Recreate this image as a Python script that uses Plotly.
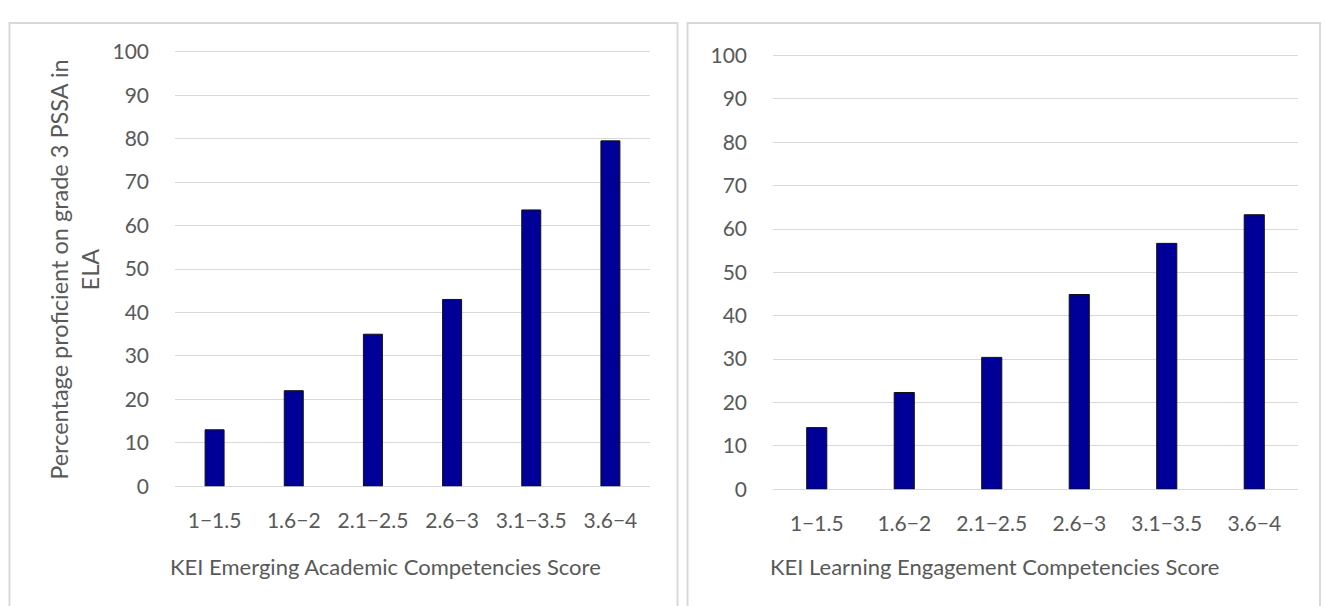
import plotly.graph_objects as go

categories = ["1\u22121.5", "1.6\u22122", "2.1\u22122.5", "2.6\u22123", "3.1\u22123.5", "3.6\u22124"]
academic_values = [13.0, 22.0, 35.0, 43.0, 63.6, 79.5]
engagement_values = [14.2, 22.3, 30.4, 44.9, 56.7, 63.3]
y_ticks = [0, 10, 20, 30, 40, 50, 60, 70, 80, 90, 100]
left_xtitle = "KEI Emerging Academic Competencies Score"
right_xtitle = "KEI Learning Engagement Competencies Score"
y_title = "Percentage proficient on grade 3 PSSA in<br>ELA"

W, H = 1325, 606
FONT = "Lato, 'Open Sans', sans-serif"
TXT = "#595959"
GRID = "#d9d9d9"
BAR = "#000099"

def px(x):
    return x / W

def py(y):
    return (H - y) / H

fig = go.Figure()
fig.add_trace(go.Bar(x=categories, y=academic_values, xaxis="x", yaxis="y",
                     marker=dict(color=BAR, line=dict(color="#111111", width=1)),
                     width=0.24, showlegend=False))
fig.add_trace(go.Bar(x=categories, y=engagement_values, xaxis="x2", yaxis="y2",
                     marker=dict(color=BAR, line=dict(color="#111111", width=1)),
                     width=0.23, showlegend=False))

axfont = dict(family=FONT, size=21, color=TXT)
common_y = dict(range=[0, 100.3], tickvals=y_ticks, showgrid=True, gridcolor=GRID, gridwidth=1,
                zeroline=True, zerolinecolor=GRID, zerolinewidth=1, showline=False,
                tickfont=axfont, ticks="", ticklabelstandoff=25, fixedrange=True)
common_x = dict(showgrid=False, zeroline=False, showline=False, tickfont=axfont, ticks="",
                ticklabelstandoff=20, fixedrange=True)

fig.update_layout(
    width=W, height=H,
    margin=dict(l=0, r=0, t=0, b=0),
    paper_bgcolor="white", plot_bgcolor="white",
    bargap=0,
    xaxis=dict(domain=[px(175), px(650)], anchor="y", **common_x),
    yaxis=dict(domain=[py(493), py(40)], anchor="x", **common_y),
    xaxis2=dict(domain=[px(773), px(1298)], anchor="y2", **common_x),
    yaxis2=dict(domain=[py(496), py(44)], anchor="x2", **common_y),
    shapes=[
        dict(type="rect", xref="paper", yref="paper", x0=px(9.5), x1=px(677.5), y0=py(640), y1=py(11.5),
             line=dict(color="#d9d9d9", width=2), fillcolor="rgba(0,0,0,0)", layer="below"),
        dict(type="rect", xref="paper", yref="paper", x0=px(687.5), x1=px(1320), y0=py(640), y1=py(11.5),
             line=dict(color="#d9d9d9", width=2), fillcolor="rgba(0,0,0,0)", layer="below"),
    ],
    annotations=[
        dict(text=left_xtitle, xref="paper", yref="paper", x=px(385), y=py(576),
             showarrow=False, font=dict(family=FONT, size=22, color=TXT), xanchor="center", yanchor="middle"),
        dict(text=right_xtitle, xref="paper", yref="paper", x=px(994), y=py(576),
             showarrow=False, font=dict(family=FONT, size=22, color=TXT), xanchor="center", yanchor="middle"),
        dict(text=y_title, xref="paper", yref="paper", x=px(75), y=py(268), textangle=-90,
             showarrow=False, font=dict(family=FONT, size=23.5, color=TXT), xanchor="center", yanchor="middle"),
    ],
)

post = ("document.documentElement.style.margin='0';document.body.style.margin='0';"
        "document.body.style.overflow='hidden';"
        "var g=document.querySelector('.plotly-graph-div');"
        "g.style.position='fixed';g.style.top='0px';g.style.left='0px';")

fig.write_html("out.html", config={"displayModeBar": False, "staticPlot": True}, post_script=post)
